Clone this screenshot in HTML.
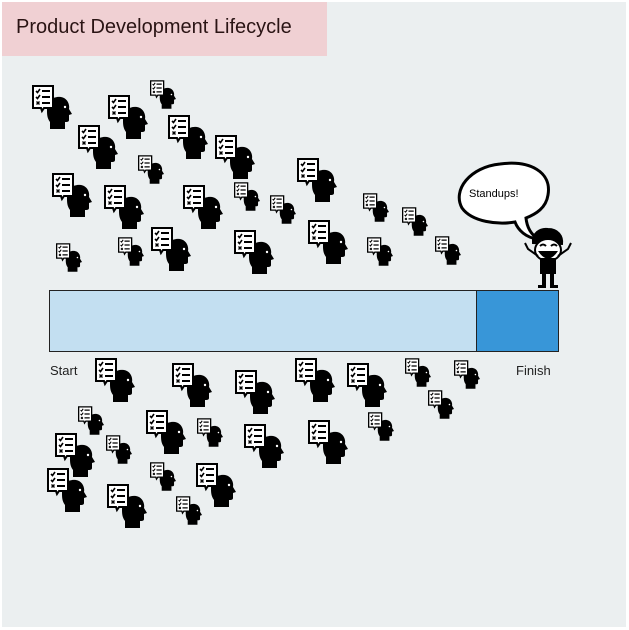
<!DOCTYPE html>
<html><head><meta charset="utf-8"><style>
html,body{margin:0;padding:0;background:#fff;}
body{width:629px;height:630px;position:relative;overflow:hidden;font-family:"Liberation Sans",sans-serif;}
</style></head><body>
<svg width="629" height="630" viewBox="0 0 629 630" xmlns="http://www.w3.org/2000/svg" style="position:absolute;left:0;top:0">
<defs>
<symbol id="ic" viewBox="0 0 40 44" overflow="visible">
<path d="M15 25 C15 15 22 11 29 12 C35 13 38 19 37 24 L40 29 L37 30 L37 35 C37 37 35 37 33 37 L33 44 L18 44 L18 37 C15 33 15 29 15 25 Z" fill="#000"/>
<circle cx="33" cy="22" r="1.2" fill="#fff"/>
<path d="M1 1 H21 V23 H12 L10 26 L9 23 H1 Z" fill="#fff" stroke="#000" stroke-width="2"/>
<path d="M4 6 L5.5 7.5 L8 4 M4 12 L5.5 13.5 L8 10" fill="none" stroke="#000" stroke-width="1.6"/>
<path d="M4.5 16.5 L7.5 19.5 M7.5 16.5 L4.5 19.5" stroke="#000" stroke-width="1.4"/>
<path d="M10 6 H18 M10 12 H18 M10 18 H18" stroke="#000" stroke-width="2"/>
</symbol>
</defs>
<rect x="2" y="2" width="624" height="625" fill="#ebeff0"/>
<rect x="2" y="2" width="325" height="54" fill="#f0d0d3"/>
<text x="16" y="33" font-size="20" fill="#2a1414">Product Development Lifecycle</text>
<rect x="49.5" y="290.5" width="427" height="61" fill="#c3dff1" stroke="#222" stroke-width="1"/>
<rect x="476.5" y="290.5" width="82" height="61" fill="#3896d8" stroke="#222" stroke-width="1"/>
<text x="50" y="375" font-size="13" fill="#222">Start</text>
<text x="516" y="375" font-size="13" fill="#222">Finish</text>
<g>
<use href="#ic" x="32" y="85" width="40" height="44"/>
<use href="#ic" x="108" y="95" width="40" height="44"/>
<use href="#ic" x="168" y="115" width="40" height="44"/>
<use href="#ic" x="78" y="125" width="40" height="44"/>
<use href="#ic" x="215" y="135" width="40" height="44"/>
<use href="#ic" x="297" y="158" width="40" height="44"/>
<use href="#ic" x="52" y="173" width="40" height="44"/>
<use href="#ic" x="104" y="185" width="40" height="44"/>
<use href="#ic" x="183" y="185" width="40" height="44"/>
<use href="#ic" x="308" y="220" width="40" height="44"/>
<use href="#ic" x="151" y="227" width="40" height="44"/>
<use href="#ic" x="234" y="230" width="40" height="44"/>
<use href="#ic" x="95" y="358" width="40" height="44"/>
<use href="#ic" x="172" y="363" width="40" height="44"/>
<use href="#ic" x="235" y="370" width="40" height="44"/>
<use href="#ic" x="295" y="358" width="40" height="44"/>
<use href="#ic" x="347" y="363" width="40" height="44"/>
<use href="#ic" x="146" y="410" width="40" height="44"/>
<use href="#ic" x="244" y="424" width="40" height="44"/>
<use href="#ic" x="308" y="420" width="40" height="44"/>
<use href="#ic" x="55" y="433" width="40" height="44"/>
<use href="#ic" x="196" y="463" width="40" height="44"/>
<use href="#ic" x="47" y="468" width="40" height="44"/>
<use href="#ic" x="107" y="484" width="40" height="44"/>
</g>
<g>
<use href="#ic" x="150" y="80" width="26" height="29"/>
<use href="#ic" x="138" y="155" width="26" height="29"/>
<use href="#ic" x="234" y="182" width="26" height="29"/>
<use href="#ic" x="270" y="195" width="26" height="29"/>
<use href="#ic" x="363" y="193" width="26" height="29"/>
<use href="#ic" x="402" y="207" width="26" height="29"/>
<use href="#ic" x="118" y="237" width="26" height="29"/>
<use href="#ic" x="367" y="237" width="26" height="29"/>
<use href="#ic" x="435" y="236" width="26" height="29"/>
<use href="#ic" x="56" y="243" width="26" height="29"/>
<use href="#ic" x="405" y="358" width="26" height="29"/>
<use href="#ic" x="454" y="360" width="26" height="29"/>
<use href="#ic" x="428" y="390" width="26" height="29"/>
<use href="#ic" x="78" y="406" width="26" height="29"/>
<use href="#ic" x="368" y="412" width="26" height="29"/>
<use href="#ic" x="197" y="418" width="26" height="29"/>
<use href="#ic" x="106" y="435" width="26" height="29"/>
<use href="#ic" x="150" y="462" width="26" height="29"/>
<use href="#ic" x="176" y="496" width="26" height="29"/>
</g>
<path d="M500 164 C530 160 552 172 548 195 C546 208 536 214 526 218 C527 228 532 235 538 239 C526 238 518 230 515 222 C498 225 472 222 462 208 C452 190 470 167 500 164 Z" fill="#fff" stroke="#000" stroke-width="3"/>
<text x="469" y="197" font-size="11" fill="#000">Standups!</text>
<g stroke="#000" fill="none" stroke-width="2">
<path d="M533 243 C532 233 540 228 548 229 C558 229 563 236 562 244 Z" fill="#000"/>
<ellipse cx="548" cy="250" rx="13" ry="11" fill="#fff"/>
<path d="M540 252 Q548 263 556 252 Z" fill="#000"/>
<path d="M540 246 Q543 243 546 246 M551 246 Q554 243 557 246"/>
<path d="M538 256 L528 249 L525 243 M558 256 L568 249 L571 243"/>
</g>
<rect x="540" y="258" width="16" height="16" fill="#000"/>
<rect x="542" y="272" width="4" height="14" fill="#000"/>
<rect x="550" y="272" width="4" height="14" fill="#000"/>
<rect x="538" y="285" width="8" height="3" fill="#000"/>
<rect x="550" y="285" width="8" height="3" fill="#000"/>
</svg>
</body></html>
